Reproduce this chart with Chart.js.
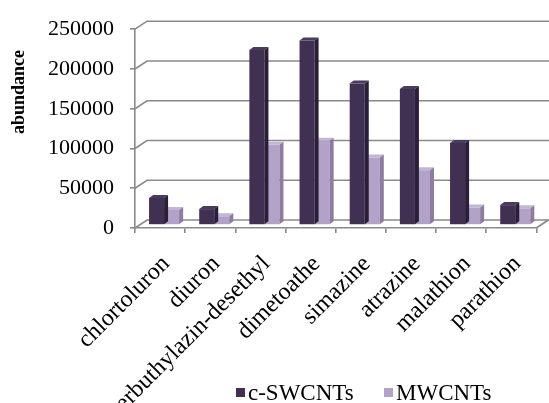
<!DOCTYPE html>
<html>
<head>
<meta charset="utf-8">
<script src="https://cdn.jsdelivr.net/npm/chart.js@4/dist/chart.umd.min.js"></script>
<style>
  html, body { margin: 0; padding: 0; background: #fff; }
  #wrap { width: 549px; height: 403px; position: relative; }
</style>
</head>
<body>
<div id="wrap"><canvas id="c"></canvas></div>
<script>
// Pesticide abundance recovered with two nanotube sorbents
const categories = ['chlortoluron', 'diuron', 'terbuthylazin-desethyl', 'dimetoathe',
                    'simazine', 'atrazine', 'malathion', 'parathion'];
const seriesNames = ['c-SWCNTs', 'MWCNTs'];
const cSWCNTs = [34000, 20000, 220000, 232000, 178000, 171000, 103000, 25000];
const MWCNTs  = [19000, 11000, 101000, 106000, 85000, 69000, 22000, 21000];
const yTicks  = [0, 50000, 100000, 150000, 200000, 250000];
const yTitle  = 'abundance';

// pseudo-3D look
const WALL  = { dx: 12, dy: -8 };   // back wall offset from the front plane
const SHIFT = { dx: 4,  dy: -3 };   // bars sit slightly behind the front plane
const DEPTH = { dx: 4,  dy: -3 };   // bar thickness
const GRID  = '#8a8a8a';
const FRONT = ['#403152', '#b3a2c7'];
const SIDE  = ['#2a1f38', '#8c7da0'];
const TOP   = ['#4b3b60', '#c3b6d5'];
const SERIF = '"Liberation Serif", "Times New Roman", serif';

const wallPlugin = {
  id: 'wall3d',
  beforeDatasetsDraw(chart) {
    const { ctx, chartArea: { left, right, bottom }, scales: { y } } = chart;
    ctx.save();
    ctx.strokeStyle = GRID;
    ctx.lineWidth = 1.6;
    y.ticks.forEach(t => {
      const py = y.getPixelForValue(t.value);
      ctx.beginPath();
      ctx.moveTo(left, py);
      ctx.lineTo(left + WALL.dx, py + WALL.dy);
      ctx.lineTo(chart.width + 20, py + WALL.dy);
      ctx.stroke();
    });
    ctx.beginPath();
    ctx.moveTo(right, bottom);
    ctx.lineTo(right + WALL.dx, bottom + WALL.dy);
    ctx.stroke();
    ctx.restore();
  },
  beforeDatasetDraw(chart) {
    chart.ctx.save();
    chart.ctx.translate(SHIFT.dx, SHIFT.dy);
  },
  afterDatasetDraw(chart, args) {
    const ctx = chart.ctx;
    const i = args.index;
    args.meta.data.forEach(bar => {
      const { x, y, base, width } = bar.getProps(['x', 'y', 'base', 'width'], true);
      const l = x - width / 2, r = x + width / 2;
      // top face
      ctx.fillStyle = TOP[i];
      ctx.beginPath();
      ctx.moveTo(l, y);
      ctx.lineTo(l + DEPTH.dx, y + DEPTH.dy);
      ctx.lineTo(r + DEPTH.dx, y + DEPTH.dy);
      ctx.lineTo(r, y);
      ctx.closePath();
      ctx.fill();
      // side face
      ctx.fillStyle = SIDE[i];
      ctx.beginPath();
      ctx.moveTo(r, y);
      ctx.lineTo(r + DEPTH.dx, y + DEPTH.dy);
      ctx.lineTo(r + DEPTH.dx, base + DEPTH.dy);
      ctx.lineTo(r, base);
      ctx.closePath();
      ctx.fill();
    });
    ctx.restore();
  },
  afterDraw(chart) {
    const ctx = chart.ctx;
    ctx.save();
    // y-axis title
    ctx.translate(19, 92);
    ctx.rotate(-Math.PI / 2);
    ctx.font = 'bold 18px ' + SERIF;
    ctx.fillStyle = '#000';
    ctx.textAlign = 'center';
    ctx.textBaseline = 'middle';
    ctx.fillText(yTitle, 0, 0);
    ctx.restore();

    // legend
    ctx.save();
    ctx.font = '23px ' + SERIF;
    ctx.textBaseline = 'alphabetic';
    const itemX = [236, 384];
    chart.data.datasets.forEach((ds, k) => {
      ctx.fillStyle = ds.backgroundColor;
      ctx.fillRect(itemX[k], 388, 9, 9);
      ctx.fillStyle = '#000';
      ctx.fillText(ds.label, itemX[k] + 12, 400);
    });
    ctx.restore();
  }
};

new Chart(document.getElementById('c'), {
  type: 'bar',
  data: {
    labels: categories,
    datasets: [
      { label: seriesNames[0], data: cSWCNTs, backgroundColor: FRONT[0], clip: false },
      { label: seriesNames[1], data: MWCNTs,  backgroundColor: FRONT[1], clip: false }
    ]
  },
  options: {
    responsive: true,
    maintainAspectRatio: false,
    animation: false,
    layout: { padding: { left: 0, top: 20, right: 6, bottom: 0 } },
    datasets: { bar: { categoryPercentage: 0.6, barPercentage: 1.0 } },
    plugins: { legend: { display: false }, tooltip: { enabled: false } },
    scales: {
      x: {
        afterFit(scale) { scale.height = 175; },
        grid: { drawOnChartArea: false, drawTicks: true, tickLength: 5, color: GRID, lineWidth: 1.6 },
        border: { display: true, color: GRID, width: 1.6 },
        ticks: {
          autoSkip: false, minRotation: 45, maxRotation: 45,
          color: '#000', padding: 17, labelOffset: 6,
          font: { family: SERIF, size: 24 }
        }
      },
      y: {
        min: 0, max: 250000,
        afterFit(scale) { scale.width = 135; },
        afterBuildTicks(scale) { scale.ticks = yTicks.map(v => ({ value: v })); },
        grid: { drawOnChartArea: false, drawTicks: true, tickLength: 5, color: GRID, lineWidth: 1.6 },
        border: { display: true, color: GRID, width: 1.6 },
        ticks: {
          color: '#000', padding: 16,
          font: { family: SERIF, size: 22 },
          callback: v => String(v)
        }
      }
    }
  },
  plugins: [wallPlugin]
});
</script>
</body>
</html>
